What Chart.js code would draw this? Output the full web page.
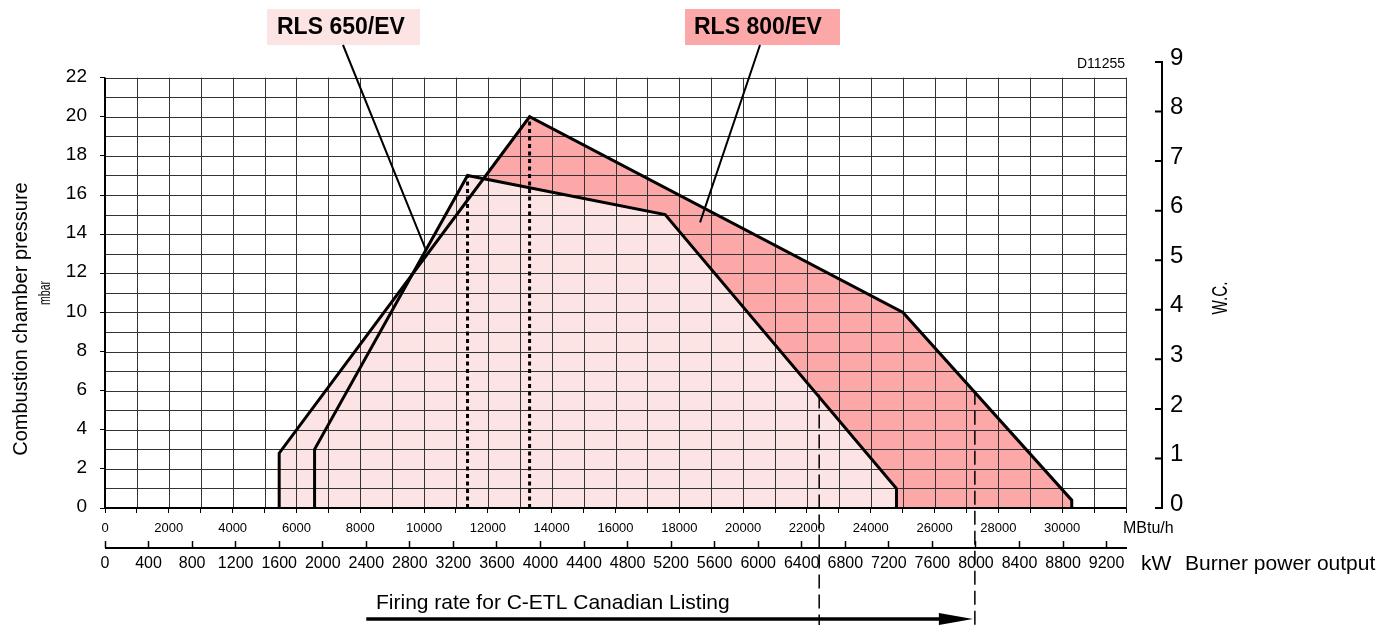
<!DOCTYPE html>
<html>
<head>
<meta charset="utf-8">
<title>RLS 650/EV - RLS 800/EV firing rates</title>
<script src="https://cdn.jsdelivr.net/npm/chart.js@4.4.1/dist/chart.umd.min.js"></script>
<style>
  html, body { margin: 0; padding: 0; background: #fff; }
  canvas { display: block; }
</style>
</head>
<body>
<canvas id="firingChart" width="1382" height="625"></canvas>
<script>
// ------------------------------
// DATA (burner output in kW, combustion chamber pressure in mbar)
// ------------------------------
const rls800Power = [1600, 1600, 3900, 7330, 8880, 8880];
const rls800Pressure = [0, 2.8, 20, 10, 0.4, 0];

const rls650Power = [1925, 1925, 3330, 5145, 7270, 7270];
const rls650Pressure = [0, 3, 17, 15, 1, 0];

// C-ETL Canadian listing limits and where they meet the curves
const cetlPower = [6560, 7990];
const cetlPressure = [5.8, 6.0];
const cetlArrowFrom = 2400;

// tick labels
const mbtuTicks = [0, 2000, 4000, 6000, 8000, 10000, 12000, 14000, 16000, 18000, 20000, 22000, 24000, 26000, 28000, 30000];
const kwTicks = [0, 400, 800, 1200, 1600, 2000, 2400, 2800, 3200, 3600, 4000, 4400, 4800, 5200, 5600, 6000, 6400, 6800, 7200, 7600, 8000, 8400, 8800, 9200];
const mbarTicks = [0, 2, 4, 6, 8, 10, 12, 14, 16, 18, 20, 22];
const wcTicks = [0, 1, 2, 3, 4, 5, 6, 7, 8, 9];

const mbtuMax = 32000;
const kwPerMbtu = 1 / 3.41214;
const pressureMax = 22;

const blush = "#fde4e4";
const salmon = "#fca8a8";
const FONT = '"Liberation Sans", Arial, Helvetica, sans-serif';

Chart.defaults.font.family = FONT;
Chart.defaults.color = "#000";

const toPoints = (xs, ys) => xs.map((x, i) => ({ x: x, y: ys[i] }));

// ------------------------------
// DECORATION PLUGIN
// ------------------------------
function squished(ctx, text, cx, cy, length, font) {
  ctx.save();
  ctx.translate(cx, cy);
  ctx.rotate(-Math.PI / 2);
  ctx.font = font;
  const w = ctx.measureText(text).width;
  ctx.scale(length / w, 1);
  ctx.textAlign = "center";
  ctx.textBaseline = "middle";
  ctx.fillText(text, 0, 0);
  ctx.restore();
}

const decor = {
  id: "decor",
  beforeDatasetsDraw(chart) {
    const { ctx } = chart;
    const { x: mb, kw, y } = chart.scales;
    const left = mb.getPixelForValue(0);
    const right = mb.getPixelForValue(mbtuMax);
    const top = y.getPixelForValue(pressureMax);
    const bottom = y.getPixelForValue(0);

    // part of the RLS 800/EV field lying above the RLS 650/EV one
    ctx.save();
    ctx.beginPath();
    rls800Power.forEach((p, i) => ctx.lineTo(kw.getPixelForValue(p), y.getPixelForValue(rls800Pressure[i])));
    ctx.closePath();
    ctx.clip();
    ctx.beginPath();
    for (let i = 2; i < rls650Power.length; i++) {
      ctx.lineTo(kw.getPixelForValue(rls650Power[i]), y.getPixelForValue(rls650Pressure[i]));
    }
    ctx.lineTo(right, bottom);
    ctx.lineTo(right, chart.chartArea.top);
    ctx.lineTo(kw.getPixelForValue(rls650Power[2]), chart.chartArea.top);
    ctx.closePath();
    ctx.fillStyle = salmon;
    ctx.fill();
    ctx.restore();

    // grid over the fields
    ctx.save();
    ctx.strokeStyle = "#333";
    ctx.lineWidth = 1;
    ctx.beginPath();
    for (let v = 0; v <= pressureMax; v++) {
      const py = Math.round(y.getPixelForValue(v)) + 0.5;
      ctx.moveTo(left, py);
      ctx.lineTo(right, py);
    }
    for (let v = 0; v <= mbtuMax; v += 1000) {
      const px = Math.round(mb.getPixelForValue(v)) + 0.5;
      ctx.moveTo(px, top);
      ctx.lineTo(px, bottom);
    }
    ctx.stroke();
    ctx.restore();
  },

  afterDraw(chart) {
    const { ctx } = chart;
    const { x: mb, kw, y, wc } = chart.scales;
    const left = mb.getPixelForValue(0);
    const right = mb.getPixelForValue(mbtuMax);
    const top = y.getPixelForValue(pressureMax);
    const bottom = y.getPixelForValue(0);

    ctx.save();
    ctx.strokeStyle = "#000";
    ctx.fillStyle = "#000";

    // main axes
    ctx.lineWidth = 2;
    ctx.beginPath();
    ctx.moveTo(left, top);
    ctx.lineTo(left, bottom + 1);
    ctx.moveTo(left - 1, bottom);
    ctx.lineTo(right, bottom);
    ctx.stroke();

    // kW axis line, ticks point up to it
    const kwLine = kw.top + 7;
    ctx.beginPath();
    ctx.moveTo(left, kwLine);
    ctx.lineTo(right + 1, kwLine);
    ctx.stroke();

    // W.C. axis
    const wcX = 1162;
    ctx.beginPath();
    ctx.moveTo(wcX, wc.getPixelForValue(9));
    ctx.lineTo(wcX, wc.getPixelForValue(0));
    wcTicks.forEach(v => {
      const py = wc.getPixelForValue(v);
      ctx.moveTo(wcX - 7, py);
      ctx.lineTo(wcX + 1, py);
    });
    ctx.stroke();

    // C-ETL dashed limits
    ctx.lineWidth = 1.5;
    ctx.setLineDash([14, 6]);
    ctx.beginPath();
    cetlPower.forEach((p, i) => {
      const px = kw.getPixelForValue(p);
      ctx.moveTo(px, y.getPixelForValue(cetlPressure[i]));
      ctx.lineTo(px, chart.height);
    });
    ctx.stroke();
    ctx.setLineDash([]);

    // arrow
    const arrowY = 619;
    const tip = kw.getPixelForValue(cetlPower[1]) - 2;
    ctx.lineWidth = 3.5;
    ctx.beginPath();
    ctx.moveTo(kw.getPixelForValue(cetlArrowFrom), arrowY);
    ctx.lineTo(tip - 30, arrowY);
    ctx.stroke();
    ctx.beginPath();
    ctx.moveTo(tip, arrowY);
    ctx.lineTo(tip - 34, arrowY - 6);
    ctx.lineTo(tip - 34, arrowY + 6);
    ctx.closePath();
    ctx.fill();

    // legend boxes and leaders
    ctx.fillStyle = blush;
    ctx.fillRect(267, 9, 153, 36);
    ctx.fillStyle = salmon;
    ctx.fillRect(685, 9, 155, 36);
    ctx.fillStyle = "#000";
    ctx.font = "bold 23px " + FONT;
    ctx.textBaseline = "alphabetic";
    ctx.fillText("RLS 650/EV", 277, 34);
    ctx.fillText("RLS 800/EV", 694, 34);
    ctx.lineWidth = 2;
    ctx.beginPath();
    ctx.moveTo(343, 45);
    ctx.lineTo(kw.getPixelForValue(2940), y.getPixelForValue(13.3));
    ctx.moveTo(760, 45);
    ctx.lineTo(kw.getPixelForValue(5466), y.getPixelForValue(14.6));
    ctx.stroke();

    // texts
    ctx.font = "14px " + FONT;
    ctx.textAlign = "right";
    ctx.fillText("D11255", 1125, 68);
    ctx.textAlign = "left";
    ctx.font = "16px " + FONT;
    ctx.fillText("MBtu/h", 1123, 533);
    ctx.font = "21px " + FONT;
    ctx.fillText("kW", 1141, 570);
    ctx.font = "21px " + FONT;
    ctx.fillText("Burner power output", 1185, 570);
    ctx.font = "21px " + FONT;
    ctx.fillText("Firing rate for C-ETL Canadian Listing", 376, 609);

    ctx.save();
    ctx.translate(27, 319);
    ctx.rotate(-Math.PI / 2);
    ctx.font = "20px " + FONT;
    ctx.textAlign = "center";
    ctx.fillText("Combustion chamber pressure", 0, 0);
    ctx.restore();

    squished(ctx, "mbar", 45, 293, 24, "17px " + FONT);
    squished(ctx, "W.C.", 1221, 298, 33, "22px " + FONT);

    ctx.restore();
  }
};

// ------------------------------
// CHART
// ------------------------------
const lineStyle = {
  borderColor: "#000",
  borderWidth: 3,
  borderJoinStyle: "miter",
  pointRadius: 0,
  tension: 0,
  xAxisID: "kw",
  yAxisID: "y"
};

new Chart(document.getElementById("firingChart"), {
  type: "line",
  data: {
    datasets: [
      { ...lineStyle, label: "RLS 800/EV", data: toPoints(rls800Power, rls800Pressure), backgroundColor: blush, fill: "origin" },
      { ...lineStyle, label: "RLS 650/EV", data: toPoints(rls650Power, rls650Pressure), backgroundColor: blush, fill: "origin" },
      { ...lineStyle, label: "RLS 650/EV peak", data: toPoints([rls650Power[2], rls650Power[2]], [0, rls650Pressure[2]]), borderDash: [4, 3.5], fill: false },
      { ...lineStyle, label: "RLS 800/EV peak", data: toPoints([rls800Power[2], rls800Power[2]], [0, rls800Pressure[2]]), borderDash: [4, 3.5], fill: false }
    ]
  },
  options: {
    responsive: false,
    animation: false,
    devicePixelRatio: 1,
    layout: { padding: { top: 62, left: 0, right: 0, bottom: 0 } },
    plugins: {
      legend: { display: false },
      tooltip: { enabled: false },
      filler: { drawTime: "beforeDatasetsDraw" }
    },
    scales: {
      x: {
        type: "linear", position: "bottom", weight: 0, min: 0, max: mbtuMax,
        afterBuildTicks: s => { s.ticks = []; for (let v = 0; v <= mbtuMax; v += 1000) s.ticks.push({ value: v }); },
        afterFit: s => { s.height = 33; },
        grid: { drawOnChartArea: false, color: "#000", tickLength: 5, tickWidth: 1 },
        border: { display: false },
        ticks: { autoSkip: false, maxRotation: 0, padding: 8, font: { size: 13 }, callback: v => mbtuTicks.includes(v) ? String(v) : "" }
      },
      kw: {
        type: "linear", position: "bottom", weight: 1, min: 0, max: mbtuMax * kwPerMbtu,
        afterBuildTicks: s => { s.ticks = kwTicks.map(v => ({ value: v })); },
        afterFit: s => { s.height = 84; },
        grid: { drawOnChartArea: false, color: "#000", tickLength: 7, tickWidth: 1.5 },
        border: { display: false },
        ticks: { autoSkip: false, maxRotation: 0, padding: 6, font: { size: 16 }, callback: v => String(v) }
      },
      y: {
        type: "linear", position: "left", min: 0, max: 22.8,
        afterBuildTicks: s => { s.ticks = mbarTicks.map(v => ({ value: v })); },
        afterFit: s => { s.width = 105; },
        grid: { drawOnChartArea: false, color: "#000", tickLength: 5 },
        border: { display: false },
        ticks: { padding: 13, labelOffset: -1, font: { size: 19 } }
      },
      wc: {
        type: "linear", position: "right", min: 0, max: 9,
        afterBuildTicks: s => { s.ticks = wcTicks.map(v => ({ value: v })); },
        afterFit: s => { s.width = 1382 - 1126; },
        grid: { display: false, drawTicks: false },
        border: { display: false },
        ticks: { padding: 44, labelOffset: -4, font: { size: 24 } }
      }
    }
  },
  plugins: [decor]
});
</script>
</body>
</html>
